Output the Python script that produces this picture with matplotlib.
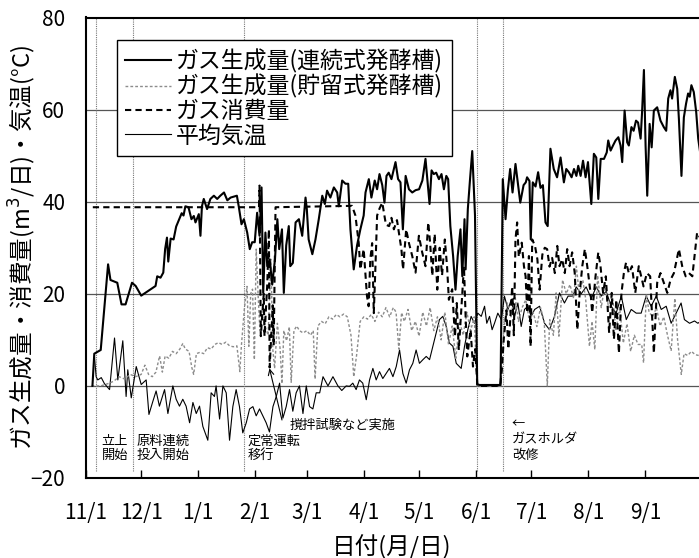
import matplotlib
matplotlib.use('Agg')
import matplotlib.pyplot as plt
from matplotlib.lines import Line2D

plt.rcParams['font.family'] = ['Noto Sans CJK JP', 'DejaVu Sans']
plt.rcParams['axes.unicode_minus'] = True

# ---------------- data (x = days since 11/1) ----------------
month_ticks = [0, 30, 61, 92, 120, 151, 181, 212, 242, 273, 304]
month_labels = ['11/1', '12/1', '1/1', '2/1', '3/1', '4/1', '5/1', '6/1', '7/1', '8/1', '9/1']
y_ticks = [-20, 0, 20, 40, 60, 80]
event_days = [5.7, 25.4, 86.1, 212.6, 226.5]

cont_days = [3.5, 4.5, 8, 12, 13.3, 17, 19.3, 21.5, 25, 27, 30, 37.8, 38.7, 40.5, 42, 43, 44, 44.7, 46, 47.6,
             49, 52, 53, 54, 55.7, 57.3, 58.6, 59.5, 61.3, 62.2, 63, 64, 65.8, 67.6, 69.5, 71.3, 73, 75, 76.8,
             78.6, 82, 83, 84.5, 85.8, 87.6, 89, 90.3, 91.7, 93, 94.3, 95.4, 96.3, 97.5, 98.5, 99.8, 101.2,
             102.7, 104, 105, 106.5, 107.5, 108.8, 110.2, 111, 112.4, 113.9, 115.7, 117.5, 119.3, 120, 121,
             123, 124.7, 126.5, 128.4, 129.8, 131, 132.8, 134.7, 136.5, 137.4, 139.2, 141, 142.5, 143.7,
             145.5, 147.3, 149.1, 150.9, 151.9, 153.7, 155.1, 156.9, 158.2, 159.5, 161, 162.2, 163.3, 164.5,
             166, 167.3, 168.2, 169.6, 170.9, 172.2, 173.7, 175.5, 177.3, 179.1, 181, 182.8, 184.5, 186.7,
             187.8, 189, 190.3, 191.8, 193.2, 194.5, 195.8, 196.8, 198, 199.5, 200.8, 202, 203.5, 204.5,
             205.7, 206.3, 207.5, 208.7, 209.9, 211.4, 212.6, 214, 225.3, 226.5, 228, 229.3, 230.5, 231.8,
             233.4, 234.8, 236, 237.8, 239, 239.7, 241, 241.7, 242.8, 244.3, 245.7, 247, 248.3, 249.7, 250.9,
             252.4, 254.2, 256, 257.9, 259.7, 261, 262.4, 263.9, 265.2, 266.5, 267.5, 268.8, 270.1, 271.5,
             272.8, 274.6, 276, 277.3, 278.4, 279.7, 281.5, 283, 283.8, 285.1, 286.4, 287.8, 289.3, 290.5,
             291.4, 292.7, 294.1, 295, 296.4, 297.6, 298.9, 300, 301.4, 302.2, 303.2, 304.1, 305, 306.3,
             307.4, 308.6, 310.4, 312.2, 314, 315.3, 316.4, 317.6, 318.5, 320, 321.3, 322.2, 323.6, 324.9,
             326.1, 327.2, 328.1, 329, 330.3, 331.6, 332.7, 334]
cont_vals = [0, 7, 7.8, 26.4, 23, 22.4, 17.7, 17.7, 22.4, 21.7, 19.6, 21.7, 23.8, 23.5, 24.6, 29.7, 32.2, 27, 32,
             31.8, 34.6, 37.5, 37, 39, 38.8, 36.2, 36.9, 35.5, 37.3, 32.6, 39, 40.6, 38.4, 40.6, 41.3, 40.6,
             41.3, 42, 40.3, 40.9, 41.3, 39, 35.1, 36.2, 33.3, 29.7, 31.2, 31.2, 37.6, 32.6, 43.1, 20.2, 33.3,
             26, 27.5, 22, 27.5, 36.2, 29.7, 34, 20.2, 30.5, 34.7, 26, 26.7, 35.5, 36.2, 32.6, 40.9, 38.4,
             31.8, 28.6, 31.8, 36.2, 41.3, 39.5, 42.4, 40.9, 43.1, 42, 39, 44.6, 43.9, 43.9, 34, 25.3, 30.5,
             34, 37, 42, 44.9, 40.9, 44.6, 42.7, 46, 43.6, 39.8, 45.6, 46.3, 44.9, 47.1, 48.6, 44.9, 44.2, 34,
             45.6, 42.7, 42, 42.5, 42.7, 44.6, 49.3, 39.5, 46.8, 46, 46.3, 44.9, 46, 42.7, 45.6, 44.9, 34.7,
             28.2, 20.9, 28.2, 34, 23.8, 36.2, 25.3, 38.4, 44.9, 51, 37, 0.3, 0.2, 0.2, 44.9, 36.2, 42.7, 47.1,
             42, 48.2, 43.6, 39.8, 43.6, 44.2, 45.3, 44.5, 31.8, 44.2, 43.3, 46.4, 43, 43.6, 35.5, 34.7, 51.5,
             47.1, 45.3, 49.6, 44.2, 47.1, 46.4, 45.3, 47.1, 45.6, 47.8, 45.6, 48.9, 45.3, 48.6, 39.5, 50.4,
             49.6, 40.6, 49.3, 49.3, 50.7, 53.3, 51.1, 52.2, 53.3, 54, 52.2, 48.6, 59.8, 52.9, 52.2, 56.2, 55.4,
             57.6, 57.2, 53.7, 59.5, 68.6, 52.2, 41.3, 56.9, 51.8, 59.8, 60.5, 57.6, 56.2, 55.4, 62.4, 64.2,
             62.4, 67.1, 64.5, 58, 45.6, 58.3, 61.3, 63.5, 62.8, 65.3, 63.8, 59.5, 53.7, 50]

stor_days = [3, 8, 12, 15, 18, 21, 24, 27, 30, 32, 34, 36, 38, 40, 41.5, 43, 45, 47, 49, 51, 52.6, 54, 56, 57.5,
             58.5, 60, 62, 64, 66, 68, 70, 72, 74, 76, 78, 80, 82, 83.6, 84.5, 86, 87.5, 88.5, 89.5, 90.5, 91.5,
             92.5, 93.5, 94.5, 96, 97.5, 99, 100.5, 101.5, 102.5, 104, 105.5, 106.5, 107.5, 109, 110.5, 111.5,
             113, 114.5, 116, 118, 120, 122, 123.5, 124.5, 126, 128, 130, 132, 134, 136, 138, 140, 142, 144,
             145.5, 147, 149, 151, 153, 155, 157, 159, 161, 163, 165, 167, 168.5, 170, 171.5, 173, 175, 177,
             179, 181, 183, 185, 187, 189, 191, 193, 195, 197, 199, 201, 203, 205, 207, 209, 211, 212.5, 225.5,
             227, 229, 231, 233, 235, 237, 239, 241, 243, 245, 247, 249, 250.7, 252, 254, 255.5, 257, 259, 261,
             263, 265, 266.5, 268, 270, 271.5, 273.6, 275, 276.5, 278, 280, 282, 284, 286, 288, 290, 292, 294,
             296, 298, 300, 302, 303, 304.5, 306, 308, 310, 312, 314, 316, 318, 320, 321.5, 323.5, 325, 327,
             329, 331, 333]
stor_vals = [0, 0, 0.5, 1, 2, 1.5, 2.5, 2, 2.5, 4.5, 2.5, 2, 3, 6.5, 3, 6.5, 6, 7.5, 7, 8, 9.2, 8, 7.5, 4, 2.5,
             7, 7.3, 7, 8.3, 8, 9, 9.4, 9, 9.5, 8.7, 8.5, 8.7, 3.1, 9, 16.5, 21.6, 8.6, 20, 21, 5.7, 29.7, 20,
             12, 17, 12.8, 11, 27.5, 8, 3.8, 13.6, 8, 0.5, 12, 9.8, 12.8, 0.8, 12, 13, 12, 11.5, 12, 11, 12, 1.5,
             13, 14, 13.5, 15, 14.5, 15.5, 15, 15.6, 15, 11, 2, 6.5, 14, 15, 14.5, 15.5, 14, 16, 15, 17, 15, 17,
             16, 8, 15.9, 14, 16.6, 12, 14, 10.8, 16, 13, 17, 12, 15, 10, 16, 9, 13, 6, 14, 11, 16, 12, 15, 0, 0,
             12, 18, 15, 20, 14, 17, 18.7, 14, 16, 12.9, 17, 14, 0, 14.4, 11, 20.2, 10.8, 23, 20, 22, 19, 26,
             20, 23, 19, 8.6, 14, 7.9, 24, 17, 22, 17, 20, 12, 17, 9.3, 13.5, 7.5, 11, 9, 9, 5, 20, 16, 15, 17,
             13, 15, 11, 7.6, 19, 10, 2.5, 7, 6.6, 7.5, 6.8, 6.6]

cons_days = [3.7, 94, 94.3, 95, 96.6, 97, 98.5, 99.4, 99.8, 101.5, 102, 103, 144.6, 146.4, 148.2, 149.1, 150.9,
             152.7, 153.6, 154.5, 155.5, 156.4, 157.3, 158.2, 159.5, 161, 163, 164.7, 166, 167.3, 169, 171.4,
             172.3, 174, 175.5, 177.3, 179.1, 180.9, 182.7, 184.5, 186, 187, 188.2, 189.5, 190.9, 192.2, 193.5,
             195, 196.2, 197.2, 199, 200.5, 201.5, 202.6, 204, 205.4, 206.3, 207.2, 209, 210.3, 211.5, 212.6,
             213, 225, 226, 227, 228.5, 229.5, 230.5, 231.6, 232.5, 233.4, 234.3, 235.2, 236.8, 238, 238.9,
             239.8, 240.7, 241.6, 242.5, 244, 245.3, 246.5, 248, 249.3, 250.6, 251.9, 253.3, 254.8, 256.1,
             257.3, 258.8, 260.2, 261.5, 262.8, 264.2, 265.6, 267, 268.3, 269.7, 271.1, 272.4, 274.2, 275.1,
             276.9, 278.4, 279.6, 281, 282.5, 284.3, 285.7, 286.9, 288.2, 289.6, 291, 292.3, 293.5, 295,
             296.7, 298.5, 300.4, 303, 304.8, 306.6, 308.6, 310.4, 312.2, 314, 315.9, 317.7, 319.5, 322.2,
             324, 325.9, 327.7, 329.5, 331.3, 332.1, 334]
cons_vals = [38.8, 38.8, 43.5, 10.8, 20, 10.8, 22, 34, 4, 17.5, 8.8, 38.8, 39.1, 37, 31.1, 25.3, 29.7, 19.5,
             17.3, 27.5, 31, 15.8, 26, 37, 38.5, 39.8, 35, 34.7, 36.5, 34, 36, 29.7, 25.3, 34, 31, 28.2, 24.6,
             32.6, 29, 26, 35.5, 31.1, 23.9, 33, 20.9, 30, 24, 31.8, 26, 18.7, 21, 10.7, 18, 7.8, 17, 26, 15.1,
             6.4, 12.2, 4.2, 8, 0.6, 0, 0, 3.5, 10, 16.4, 8, 14, 21.6, 11, 31.8, 35.5, 28, 31.1, 26, 23.8, 15.9,
             28.2, 8.6, 31.8, 30.4, 27.5, 20.9, 28.5, 30, 29.7, 25.9, 27.8, 24.5, 30.4, 26, 27.5, 24.5, 29.7, 26,
             29, 24.5, 12.2, 20.2, 26, 29.7, 26, 20.2, 15.9, 23.8, 29, 26, 20.2, 23.8, 11.5, 20.2, 10.1, 18.7,
             7.1, 20.2, 24.5, 26.8, 24.5, 26, 20.2, 26, 21.6, 24.5, 23.8, 7.1, 22.4, 24.5, 22.4, 20.2, 23.1,
             24.5, 29.7, 26, 23.8, 24.5, 23.8, 30.4, 33.3, 32]

temp_days = [4.6, 5.5, 6.4, 8.3, 10, 12.8, 15.5, 17.3, 20, 21.8, 22.7, 24.6, 27.3, 30, 32.7, 34.2, 36.3, 38.1,
             39.9, 42.7, 44.5, 47.2, 49, 50.8, 52.6, 54.4, 56.3, 58.1, 59.9, 61.7, 63.5, 66.2, 68, 69.8, 70.7,
             72.6, 74.4, 76.2, 78, 79.8, 81.6, 83.4, 85.2, 87.1, 88.9, 90.7, 92.5, 94.3, 96.1, 97.9, 99.7, 101.6,
             103.4, 105.2, 107, 108.8, 110.6, 112.4, 114.2, 116, 117.9, 119.7, 121.5, 123.3, 125.1, 127, 128.8,
             131.5, 134.2, 136.9, 139, 141.4, 143.2, 145, 146.8, 148.6, 150.4, 152.3, 154.1, 155.9, 157.7,
             159.5, 161.3, 163.1, 164.9, 166.8, 168.6, 170.4, 172.2, 174, 175.8, 177.6, 179.4, 181.2, 183.1,
             184.9, 186.7, 188.5, 190.3, 192.1, 193.9, 195.7, 197.5, 199.4, 201.2, 203.9, 205.7, 207.5, 209.3,
             211.1, 212.9, 214.8, 216.6, 217.8, 219.3, 220.7, 222, 223.8, 225.7, 227.4, 229.3, 231.1, 232.9,
             234.7, 236.5, 238.3, 240.1, 241.9, 243.8, 246.5, 249.2, 251.9, 254.6, 257.3, 260, 262, 264.6,
             266.4, 269.1, 271.8, 274.6, 277.3, 280, 282.7, 285.4, 288.1, 290.9, 293.6, 296.3, 299, 301.7,
             304.4, 307.1, 309.9, 312.6, 315.3, 318, 320.7, 323.4, 325.2, 328, 330.7, 332.5, 334]
temp_vals = [6.4, 2, 1.3, 1.8, 0.5, -0.8, 10.4, 1.3, 9.8, -2.3, 3.5, -2.6, 4.2, 0.3, 1.3, -6.2, -3.4, -1.1, -4.4,
             -0.8, -6, 0, -2.9, -4.4, -2.9, -4.4, -8, -3.6, -6, -4.4, -8.8, -11.8, -1.5, -2.3, 0, -7.2, 0, -1.5,
             -11.8, -4.5, -0.8, -4.5, -10.2, -8, -5, -4.5, -6.5, -5, -6.5, -8, -10, -4.5, -2.3, 0.6, -7, -4.5,
             -0.8, -5.5, -1.5, 0, -6, 0, -4.5, -5, -1.5, -1.5, 2, 0, 2, 0, -1, 0, -0.1, 0.6, -0.8, 1.3, 0.6,
             -3, 1.3, 3.8, 1.3, 3.1, 1.6, 2.7, 3.8, 2, 4.2, 7.8, 2.7, 0.6, 3.5, 4.9, 7.8, 4.9, 5.7, 6.4, 5.7,
             8.6, 11.5, 14.4, 15.1, 13, 9.3, 8.6, 4.9, 3.8, 8.6, 12.2, 15.1, 13.6, 15.8, 15.1, 17.3, 13.6,
             15.1, 12.2, 13.6, 15.8, 14.4, 19.5, 16.6, 18.7, 15.1, 18, 12.9, 16.6, 17.3, 15.1, 16.6, 17.3,
             13.6, 12.2, 15.1, 20.2, 18, 19.5, 19.5, 21.5, 20, 21.5, 19, 21.5, 19.5, 20.5, 17.3, 15.8, 19.5,
             14.4, 16.6, 15.8, 15.8, 19.5, 17.3, 19.5, 16.6, 17.3, 13.6, 15.8, 18, 14.4, 13.6, 14.1, 13.6, 14]

legend_labels = ['ガス生成量(連続式発酵槽)', 'ガス生成量(貯留式発酵槽)', 'ガス消費量', '平均気温']

# ---------------- figure ----------------
fig = plt.figure(figsize=(6.99, 5.58), dpi=100)
ax = fig.add_axes([86 / 699, 1 - 478 / 558, 614.6 / 699, 460.5 / 558])

ax.set_xlim(0, 334)
ax.set_ylim(-20, 80)

for v in [0, 20, 40, 60]:
    ax.axhline(v, color='#555555', lw=0.9, zorder=1)
ax.vlines(event_days, -18.5, 80, colors='#777777', linestyles=(0, (1, 1)), lw=0.8, zorder=1)

l_temp, = ax.plot(temp_days, temp_vals, color='black', lw=0.8, zorder=2)
l_stor, = ax.plot(stor_days, stor_vals, color='#8c8c8c', lw=1.0, ls=(0, (2, 1.5)), zorder=3)
l_cons, = ax.plot(cons_days, cons_vals, color='black', lw=1.5, ls=(0, (3, 2)), zorder=4)
l_cont, = ax.plot(cont_days, cont_vals, color='black', lw=1.5, zorder=5)

ax.set_xticks(month_ticks)
ax.set_xticklabels(month_labels)
ax.set_yticks(y_ticks)
ax.tick_params(axis='x', direction='in', length=6, width=1, pad=17, labelsize=15)
ax.tick_params(axis='y', length=0, pad=15, labelsize=15)

for s in ['left', 'top', 'bottom']:
    ax.spines[s].set_linewidth(1.5)
ax.spines['right'].set_visible(False)

ax.set_ylabel('ガス生成量・消費量(m$^{3}$/日)・気温(°C)', fontsize=17)
ax.yaxis.set_label_coords(-0.078, 0.5)
fig.text(392 / 699, 1 - 547 / 558, '日付(月/日)', ha='center', va='center', fontsize=17)

# annotations
ann_fs = 9.5
ax.text(8.4, -13.6, '立上\n開始', fontsize=ann_fs, va='center', ha='left', linespacing=1.1)
ax.text(27.4, -13.6, '原料連続\n投入開始', fontsize=ann_fs, va='center', ha='left', linespacing=1.1)
ax.text(87.9, -13.6, '定常運転\n移行', fontsize=ann_fs, va='center', ha='left', linespacing=1.1)
ax.text(110.6, -8.5, '撹拌試験など実施', fontsize=ann_fs, va='center', ha='left')
ax.text(231.3, -11.8, '←\nガスホルダ\n改修', fontsize=ann_fs, va='center', ha='left', linespacing=1.2)
ax.annotate('', xy=(99.7, 3.8), xytext=(106.5, -7.4),
            arrowprops=dict(arrowstyle='->', color='black', lw=0.8, shrinkA=0, shrinkB=0))

handles = [Line2D([], [], color='black', lw=1.5),
           Line2D([], [], color='#8c8c8c', lw=1.0, ls=(0, (2, 1.5))),
           Line2D([], [], color='black', lw=1.5, ls=(0, (3, 2))),
           Line2D([], [], color='black', lw=0.8)]
leg = ax.legend(handles, legend_labels, loc='upper left', bbox_to_anchor=(0.05, 0.951),
                borderaxespad=0, fontsize=16.5, frameon=True, fancybox=False, shadow=False,
                handlelength=2.0, handletextpad=0.2, borderpad=0.38, labelspacing=0.06)
leg.get_frame().set_edgecolor('black')
leg.get_frame().set_linewidth(1.0)
leg.get_frame().set_alpha(1)
leg.set_zorder(10)

fig.savefig('out.png', dpi=100)
